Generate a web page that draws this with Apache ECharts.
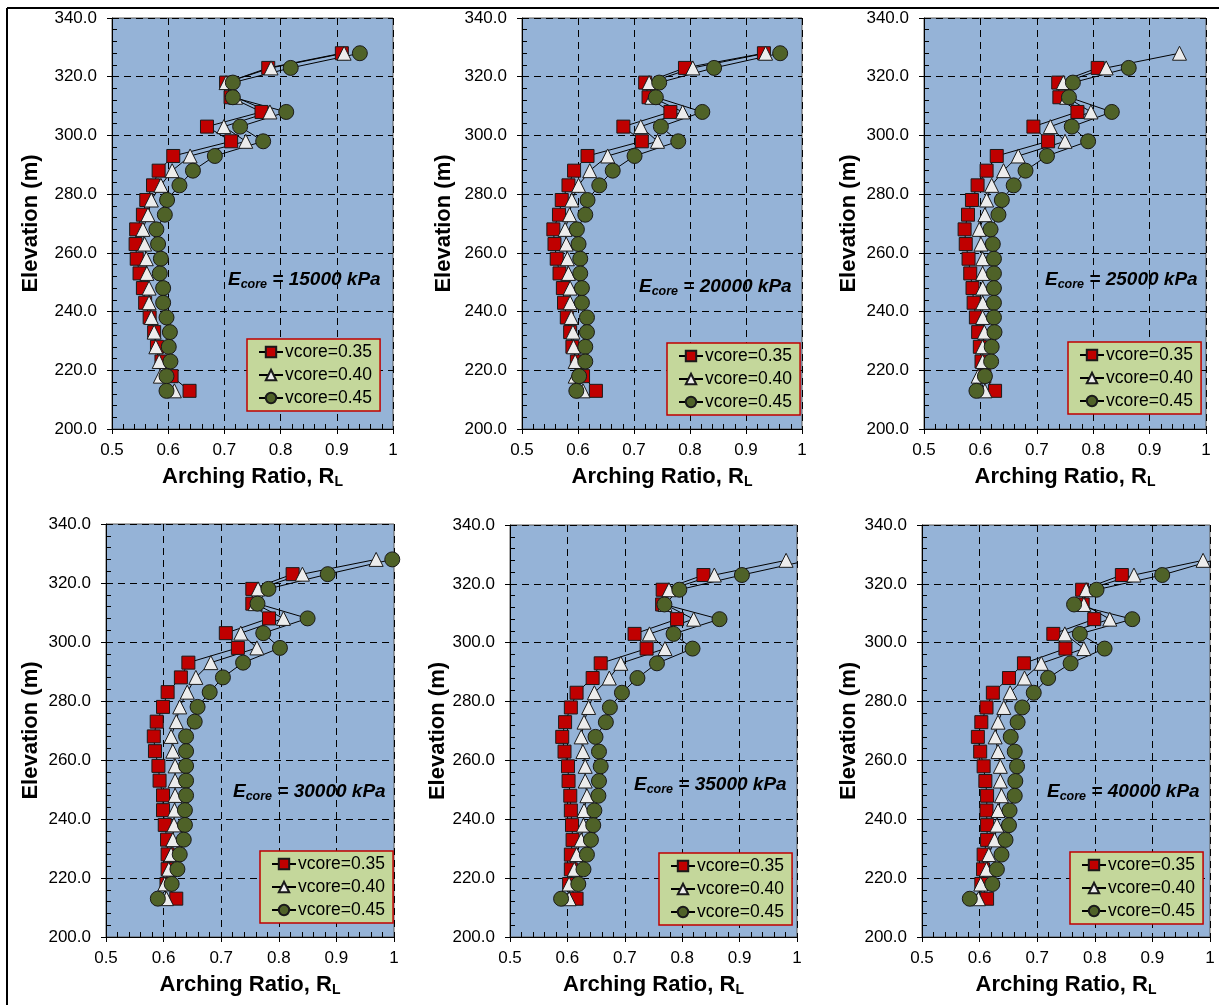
<!DOCTYPE html>
<html>
<head>
<meta charset="utf-8">
<script src="https://cdn.jsdelivr.net/npm/echarts@6/dist/echarts.min.js"></script>
<style>
  html, body { margin: 0; padding: 0; background: #fff; }
  #chart { width: 1219px; height: 1005px; }
</style>
</head>
<body>
<div id="chart"></div>
<script>
// elevations, top to bottom (m)
var elevations = [328, 323, 318, 313, 308, 303, 298, 293, 288, 283, 278, 273,
  268, 263, 258, 253, 248, 243, 238, 233, 228, 223, 218, 213];

var seriesNames = ["vcore=0.35", "vcore=0.40", "vcore=0.45"];
var eCoreLabels = ["15000", "20000", "25000", "30000", "35000", "40000"];

// arching ratio R_L, one array per vcore, same order as elevations
var e15000_35 = [0.909, 0.778, 0.703, 0.711, 0.766, 0.669, 0.712, 0.609, 0.583, 0.573, 0.561, 0.555, 0.543, 0.542, 0.544, 0.549, 0.555, 0.559, 0.567, 0.575, 0.580, 0.588, 0.606, 0.638];
var e15000_40 = [0.913, 0.783, 0.703, 0.720, 0.781, 0.699, 0.738, 0.639, 0.607, 0.587, 0.570, 0.564, 0.555, 0.558, 0.561, 0.562, 0.566, 0.566, 0.570, 0.575, 0.578, 0.584, 0.586, 0.611];
var e15000_45 = [0.941, 0.818, 0.715, 0.715, 0.810, 0.728, 0.769, 0.683, 0.644, 0.620, 0.598, 0.594, 0.579, 0.582, 0.587, 0.585, 0.591, 0.591, 0.597, 0.603, 0.601, 0.604, 0.597, 0.597];

var e20000_35 = [0.932, 0.791, 0.720, 0.726, 0.765, 0.681, 0.714, 0.617, 0.593, 0.583, 0.571, 0.566, 0.556, 0.558, 0.562, 0.567, 0.573, 0.575, 0.580, 0.586, 0.590, 0.598, 0.609, 0.632];
var e20000_40 = [0.935, 0.805, 0.727, 0.732, 0.787, 0.712, 0.742, 0.653, 0.621, 0.601, 0.589, 0.585, 0.577, 0.579, 0.581, 0.583, 0.586, 0.586, 0.588, 0.591, 0.592, 0.595, 0.595, 0.609];
var e20000_45 = [0.961, 0.843, 0.745, 0.739, 0.822, 0.748, 0.779, 0.701, 0.662, 0.638, 0.617, 0.613, 0.598, 0.601, 0.604, 0.604, 0.607, 0.607, 0.616, 0.616, 0.613, 0.613, 0.602, 0.597];

var e25000_35 = [null, 0.808, 0.738, 0.740, 0.772, 0.694, 0.720, 0.629, 0.611, 0.595, 0.585, 0.578, 0.572, 0.574, 0.579, 0.582, 0.586, 0.588, 0.592, 0.596, 0.599, 0.602, 0.607, 0.626];
var e25000_40 = [0.953, 0.823, 0.747, 0.753, 0.796, 0.724, 0.750, 0.667, 0.641, 0.620, 0.611, 0.608, 0.598, 0.601, 0.604, 0.604, 0.604, 0.604, 0.604, 0.607, 0.604, 0.604, 0.596, 0.608];
var e25000_45 = [null, 0.863, 0.764, 0.757, 0.833, 0.762, 0.791, 0.718, 0.680, 0.659, 0.638, 0.632, 0.618, 0.622, 0.624, 0.624, 0.624, 0.624, 0.624, 0.625, 0.620, 0.619, 0.608, 0.593];

var e30000_35 = [null, 0.824, 0.754, 0.754, 0.783, 0.708, 0.729, 0.643, 0.630, 0.607, 0.599, 0.588, 0.583, 0.585, 0.591, 0.593, 0.599, 0.599, 0.602, 0.606, 0.607, 0.607, 0.605, 0.622];
var e30000_40 = [0.969, 0.841, 0.764, 0.759, 0.808, 0.734, 0.762, 0.682, 0.656, 0.641, 0.628, 0.622, 0.613, 0.616, 0.620, 0.620, 0.620, 0.619, 0.618, 0.616, 0.613, 0.609, 0.602, 0.605];
var e30000_45 = [0.997, 0.885, 0.782, 0.763, 0.850, 0.773, 0.802, 0.738, 0.703, 0.680, 0.659, 0.654, 0.639, 0.639, 0.639, 0.639, 0.639, 0.637, 0.637, 0.635, 0.628, 0.624, 0.614, 0.590];

var e35000_35 = [null, 0.837, 0.766, 0.765, 0.791, 0.717, 0.738, 0.658, 0.644, 0.616, 0.606, 0.596, 0.591, 0.595, 0.601, 0.602, 0.605, 0.606, 0.608, 0.609, 0.606, 0.606, 0.603, 0.616];
var e35000_40 = [0.981, 0.856, 0.777, 0.770, 0.820, 0.743, 0.770, 0.693, 0.673, 0.647, 0.637, 0.629, 0.624, 0.627, 0.631, 0.631, 0.634, 0.629, 0.628, 0.624, 0.616, 0.612, 0.603, 0.603];
var e35000_45 = [1.020, 0.904, 0.795, 0.769, 0.865, 0.785, 0.818, 0.756, 0.722, 0.695, 0.674, 0.667, 0.649, 0.655, 0.658, 0.655, 0.654, 0.647, 0.645, 0.641, 0.634, 0.628, 0.619, 0.589];

var e40000_35 = [null, 0.847, 0.778, 0.779, 0.799, 0.728, 0.749, 0.677, 0.651, 0.623, 0.612, 0.603, 0.597, 0.601, 0.607, 0.610, 0.613, 0.612, 0.613, 0.613, 0.607, 0.606, 0.603, 0.613];
var e40000_40 = [0.988, 0.868, 0.785, 0.781, 0.826, 0.748, 0.781, 0.707, 0.678, 0.653, 0.642, 0.632, 0.627, 0.632, 0.636, 0.636, 0.638, 0.632, 0.630, 0.626, 0.616, 0.612, 0.602, 0.598];
var e40000_45 = [1.005, 0.917, 0.803, 0.764, 0.865, 0.774, 0.817, 0.758, 0.719, 0.694, 0.674, 0.666, 0.654, 0.661, 0.665, 0.662, 0.661, 0.652, 0.651, 0.645, 0.638, 0.630, 0.622, 0.583];

var panelData = [
  [e15000_35, e15000_40, e15000_45],
  [e20000_35, e20000_40, e20000_45],
  [e25000_35, e25000_40, e25000_45],
  [e30000_35, e30000_40, e30000_45],
  [e35000_35, e35000_40, e35000_45],
  [e40000_35, e40000_40, e40000_45]
];

// layout of each panel (px)
var layout = [
  { grid: [112, 18, 281, 411], gap: 70, legend: [247, 339], note: [228, 270] },
  { grid: [522, 18, 280, 411], gap: 67, legend: [667, 343], note: [639, 277] },
  { grid: [924, 18, 282, 411], gap: 64, legend: [1068, 342], note: [1045, 270] },
  { grid: [106, 524, 288, 413], gap: 64, legend: [260, 851], note: [233, 782] },
  { grid: [510, 525, 287, 412], gap: 60, legend: [659, 853], note: [634, 775] },
  { grid: [922, 525, 288, 412], gap: 62, legend: [1070, 852], note: [1047, 782] }
];

var markers = [
  { symbol: "rect", size: 13, color: "#c00000" },
  { symbol: "triangle", size: 14, color: "#ececec" },
  { symbol: "circle", size: 15, color: "#4f6228" }
];

var FONT = "Liberation Sans, Arial, sans-serif";

var grids = [], xAxes = [], yAxes = [], series = [], legends = [], graphics = [];

layout.forEach(function (p, i) {
  grids.push({
    left: p.grid[0], top: p.grid[1], width: p.grid[2], height: p.grid[3],
    show: true, backgroundColor: "#95b3d7", borderColor: "#595959", borderWidth: 1
  });

  xAxes.push({
    type: "value", gridIndex: i, min: 0.5, max: 1, interval: 0.1,
    name: "{a|Arching Ratio, R}{b|L}", nameLocation: "middle", nameGap: 36,
    nameTextStyle: {
      rich: {
        a: { fontFamily: FONT, fontSize: 22, fontWeight: "bold", color: "#000", lineHeight: 24 },
        b: { fontFamily: FONT, fontSize: 14, fontWeight: "bold", color: "#000", lineHeight: 14, verticalAlign: "bottom" }
      }
    },
    axisLine: { show: true, onZero: false, lineStyle: { color: "#000", width: 1 } },
    axisTick: { show: true, length: 5, lineStyle: { color: "#000" } },
    minorTick: { show: true, splitNumber: 5, length: -5, lineStyle: { color: "#000" } },
    axisLabel: {
      margin: 13, fontFamily: FONT, fontSize: 17, color: "#000",
      formatter: function (v) { return Math.abs(v - 1) < 1e-9 ? "1" : v.toFixed(1); }
    },
    splitLine: { show: true, lineStyle: { color: "#000", type: [7, 5], width: 1 } }
  });

  yAxes.push({
    type: "value", gridIndex: i, min: 200, max: 340, interval: 20,
    name: "Elevation (m)", nameLocation: "middle", nameGap: p.gap,
    nameTextStyle: { fontFamily: FONT, fontSize: 22, fontWeight: "bold", color: "#000" },
    axisLine: { show: true, onZero: false, lineStyle: { color: "#000", width: 1 } },
    axisTick: { show: true, length: 5, lineStyle: { color: "#000" } },
    minorTick: { show: true, splitNumber: 5, length: -5, lineStyle: { color: "#000" } },
    axisLabel: {
      margin: 15, fontFamily: FONT, fontSize: 17, color: "#000",
      formatter: function (v) { return v.toFixed(1); }
    },
    splitLine: { show: true, lineStyle: { color: "#000", type: [7, 5], width: 1 } }
  });

  panelData[i].forEach(function (vals, k) {
    var m = markers[k];
    var pts = [];
    vals.forEach(function (v, j) {
      if (v !== null) pts.push([v, elevations[j]]);
    });
    series.push({
      name: seriesNames[k], type: "line", xAxisIndex: i, yAxisIndex: i,
      data: pts, clip: true, animation: false,
      symbol: m.symbol, symbolSize: m.size, showSymbol: true,
      lineStyle: { color: "#000", width: 1 },
      itemStyle: { color: m.color, borderColor: "#1a1a1a", borderWidth: 1 },
      emphasis: { disabled: true }
    });
  });

  legends.push({
    orient: "vertical", left: p.legend[0], top: p.legend[1],
    data: seriesNames, selectedMode: false,
    backgroundColor: "#c4d79b", borderColor: "#c00000", borderWidth: 1.5, borderRadius: 0,
    padding: [4, 8, 4, 11], itemGap: 5, itemWidth: 24, itemHeight: 13,
    textStyle: { fontFamily: FONT, fontSize: 17.5, color: "#000", padding: [0, 0, 0, -3] }
  });

  graphics.push({
    type: "text", left: p.note[0], top: p.note[1], z: 100,
    style: {
      text: "{e|E}{s|core}{e| = " + eCoreLabels[i] + " kPa}",
      rich: {
        e: { fontFamily: FONT, fontSize: 19, fontWeight: "bold", fontStyle: "italic", fill: "#000", lineHeight: 24 },
        s: { fontFamily: FONT, fontSize: 12.5, fontWeight: "bold", fontStyle: "italic", fill: "#000", lineHeight: 12, verticalAlign: "bottom" }
      }
    }
  });
});

// outer frame
graphics.push({ type: "line", shape: { x1: 7, y1: 8, x2: 1219, y2: 8 }, style: { stroke: "#000", lineWidth: 2 } });
graphics.push({ type: "line", shape: { x1: 7, y1: 8, x2: 7, y2: 1005 }, style: { stroke: "#000", lineWidth: 2 } });

var myChart = echarts.init(document.getElementById("chart"), null, { renderer: "canvas" });
myChart.setOption({
  animation: false,
  grid: grids,
  xAxis: xAxes,
  yAxis: yAxes,
  legend: legends,
  series: series,
  graphic: graphics
});

window.addEventListener("resize", function () {
  myChart.resize();
});
</script>
</body>
</html>
